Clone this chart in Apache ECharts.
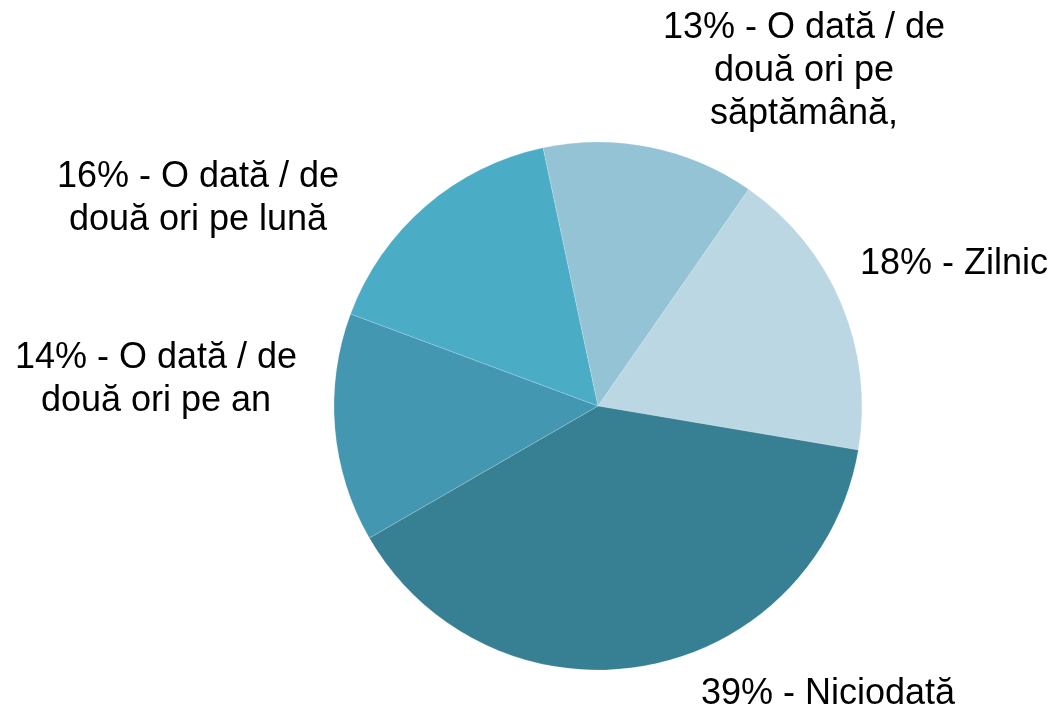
<!DOCTYPE html>
<html>
<head>
<meta charset="utf-8">
<script src="https://cdn.jsdelivr.net/npm/echarts@6/dist/echarts.min.js"></script>
<style>
  html, body { margin: 0; padding: 0; background: #fff; }
  #chart { width: 1060px; height: 714px; }
</style>
</head>
<body>
<div id="chart"></div>
<script>
// categorii (in ordinea feliilor, in sensul acelor de ceasornic)
var categories = ['Zilnic', 'Niciodată', 'O dată / de\ndouă ori pe an', 'O dată / de\ndouă ori pe lună', 'O dată / de\ndouă ori pe\nsăptămână,'];
// procente
var values = [18, 39, 14, 16, 13];
// culori felii
var colors = ['#bbd7e3', '#377f93', '#4397b0', '#4bacc6', '#93c3d4'];
// pozitia etichetelor (centrul textului)
var labelPos = [[954, 264], [828, 694], [156, 380], [198, 199], [804, 71]];

var chart = echarts.init(document.getElementById('chart'));

var seriesData = categories.map(function (name, i) {
    return { name: name, value: values[i], itemStyle: { color: colors[i] } };
});

var option = {
    animation: false,
    series: [{
        type: 'pie',
        center: [598, 406],
        radius: 264,
        startAngle: 55.2,
        clockwise: true,
        data: seriesData,
        itemStyle: {
            borderColor: 'rgba(255,255,255,0.35)',
            borderWidth: 0.5
        },
        label: {
            show: true,
            position: 'inside',
            formatter: function (p) { return p.value + '% - ' + p.name; },
            fontFamily: 'Liberation Sans, Arial, sans-serif',
            fontSize: 36,
            lineHeight: 43,
            color: '#000',
            align: 'center'
        },
        labelLine: { show: false },
        labelLayout: function (params) {
            var pos = labelPos[params.dataIndex];
            return { x: pos[0], y: pos[1], align: 'center', verticalAlign: 'middle' };
        }
    }]
};

chart.setOption(option);
</script>
</body>
</html>
